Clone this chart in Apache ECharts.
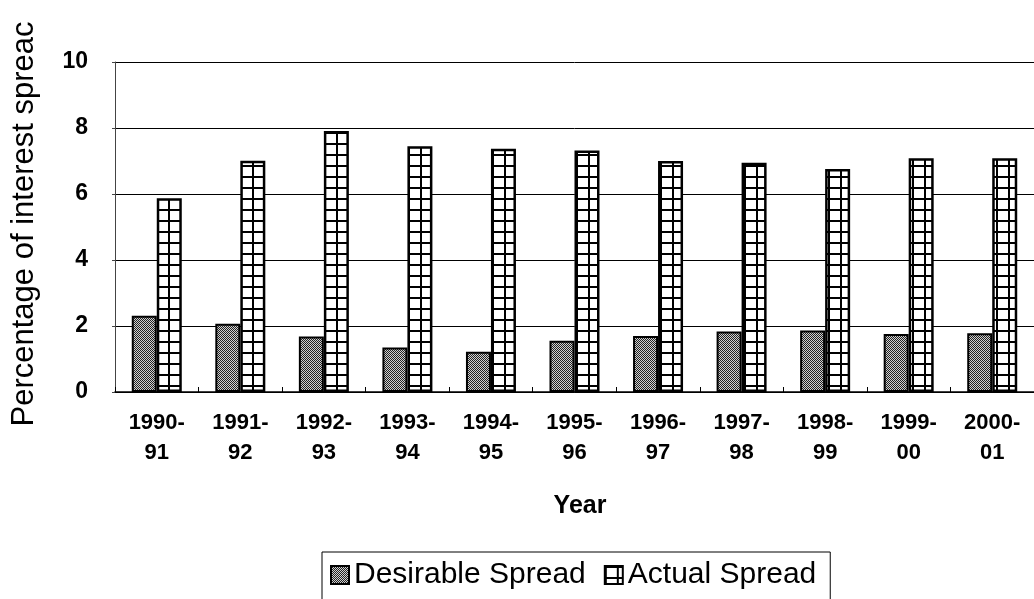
<!DOCTYPE html>
<html>
<head>
<meta charset="utf-8">
<script src="https://cdn.jsdelivr.net/npm/echarts@6/dist/echarts.min.js"></script>
<style>
  html, body { margin: 0; padding: 0; background: #fff; }
  #chart { width: 1034px; height: 599px; }
</style>
</head>
<body>
<div id="chart"></div>
<script>
const categories = ['1990-\n91', '1991-\n92', '1992-\n93', '1993-\n94', '1994-\n95', '1995-\n96', '1996-\n97', '1997-\n98', '1998-\n99', '1999-\n00', '2000-\n01'];
const desirableSpread = [2.31, 2.07, 1.68, 1.35, 1.22, 1.55, 1.70, 1.83, 1.86, 1.76, 1.78];
const actualSpread = [5.87, 7.01, 7.91, 7.45, 7.37, 7.32, 7.00, 6.95, 6.76, 7.08, 7.08];
const seriesNames = ['Desirable Spread', 'Actual Spread'];
const yTicks = [0, 2, 4, 6, 8, 10];
const yTitle = 'Percentage of interest spreac';
const xTitle = 'Year';

function makeGridPattern() {
  const c = document.createElement('canvas');
  c.width = 12; c.height = 11;
  const ctx = c.getContext('2d');
  ctx.fillStyle = '#fff';
  ctx.fillRect(0, 0, 12, 11);
  ctx.fillStyle = '#000';
  ctx.fillRect(0, 0, 12, 2);
  ctx.fillRect(0, 0, 2, 11);
  return c;
}
function makeDotPattern() {
  const c = document.createElement('canvas');
  c.width = 2; c.height = 2;
  const ctx = c.getContext('2d');
  ctx.fillStyle = '#d0d0d0';
  ctx.fillRect(0, 0, 2, 2);
  ctx.fillStyle = '#222';
  ctx.fillRect(0, 0, 1, 1);
  ctx.fillRect(1, 1, 1, 1);
  return c;
}

const FONT = '"Liberation Sans", Arial, sans-serif';
const chart = echarts.init(document.getElementById('chart'), null, { renderer: 'canvas' });

chart.setOption({
  animation: false,
  backgroundColor: '#fff',
  grid: { left: 115, top: 62, right: -8, bottom: 207, containLabel: false },
  legend: {
    data: seriesNames,
    left: 322,
    top: 552,
    orient: 'horizontal',
    icon: 'rect',
    borderColor: '#000',
    borderWidth: 1,
    padding: [8, 14, 14, 8],
    itemWidth: 18,
    itemHeight: 18,
    itemGap: 18,
    textStyle: { fontFamily: FONT, fontSize: 30, color: '#000' }
  },
  xAxis: {
    type: 'category',
    data: categories,
    axisLine: { show: true, lineStyle: { color: '#000', width: 1.5 } },
    axisTick: { show: true, inside: true, length: 5, lineStyle: { color: '#000' } },
    axisLabel: { fontFamily: FONT, fontSize: 22, fontWeight: 'bold', color: '#000', margin: 16, lineHeight: 30, interval: 0 },
    splitLine: { show: false }
  },
  yAxis: {
    type: 'value',
    min: 0,
    max: 10,
    interval: 2,
    axisLine: { show: true, lineStyle: { color: '#444', width: 1 } },
    axisTick: { show: true, length: 3, lineStyle: { color: '#444' } },
    axisLabel: {
      fontFamily: FONT, fontSize: 23, fontWeight: 'bold', color: '#000', margin: 27,
      formatter: function (v) { return yTicks.indexOf(v) >= 0 ? String(v) : ''; }
    },
    splitLine: { show: true, lineStyle: { color: '#000', width: 1 } }
  },
  graphic: [
    {
      type: 'text',
      x: 24, y: 224,
      rotation: Math.PI / 2,
      style: {
        text: yTitle, fontFamily: FONT, fontSize: 31, fill: '#000',
        textAlign: 'center', textVerticalAlign: 'middle'
      }
    },
    {
      type: 'text',
      x: 580, y: 506,
      style: {
        text: xTitle, fontFamily: FONT, fontSize: 25, fontWeight: 'bold', fill: '#000',
        textAlign: 'center', textVerticalAlign: 'middle'
      }
    }
  ],
  series: [
    {
      name: seriesNames[0],
      type: 'bar',
      data: desirableSpread,
      barWidth: 25,
      barGap: '0%',
      itemStyle: {
        color: { image: makeDotPattern(), repeat: 'repeat' },
        borderColor: '#000',
        borderWidth: 2
      }
    },
    {
      name: seriesNames[1],
      type: 'bar',
      data: actualSpread,
      barWidth: 25,
      barGap: '0%',
      itemStyle: {
        color: { image: makeGridPattern(), repeat: 'repeat' },
        borderColor: '#000',
        borderWidth: 2.5
      }
    }
  ]
});
</script>
</body>
</html>
